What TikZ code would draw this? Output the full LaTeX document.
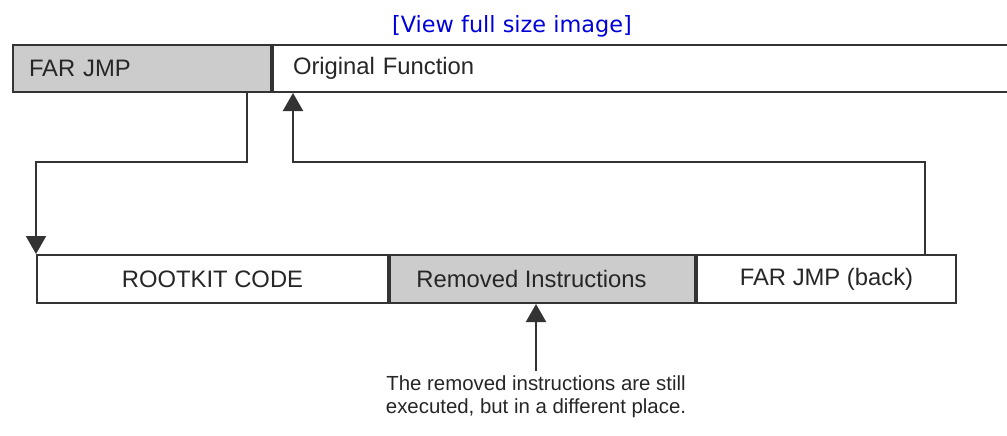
\documentclass[tikz,border=0pt]{standalone}
\usepackage{fontspec}
\setmainfont{Liberation Sans}
\newfontfamily\linkfont{DejaVu Sans}
\usetikzlibrary{calc}
\usetikzlibrary{arrows.meta}
\tikzset{>={Triangle[width=10pt,length=9pt]}}
\colorlet{Bcol}{black!80}
\colorlet{Gcol}{black!20}
\colorlet{Lcol}{blue!85!black}
\tikzset{
  box/.style={draw=Bcol,line width=1pt,minimum height=24pt,inner sep=0pt,
    text=black!85,font=\fontsize{11.9}{13}\selectfont},
  lbox/.style={box,align=left,inner xsep=#1},
  wire/.style={draw=Bcol,line width=1pt},
}

\begin{document}
\begin{tikzpicture}[x=0.5pt,y=-0.5pt]
  \def\H{23.5pt} % height top bar
  \useasboundingbox (0,0) rectangle (1007,435);
  \node[Lcol,font=\linkfont\fontsize{11.2}{13}\selectfont] (link) at (512,26) {[View full size image]};
  
  % original code, top
  \node[lbox=8pt,fill=Gcol,minimum height=\H,text width=113pt,anchor=west] (farjmp) at (12,68.5) {FAR JMP};
  \node[lbox=10pt,minimum height=\H,text width=360pt,anchor=west] (origfn) at (farjmp.east) {Original Function};
  
  % detour, bottom
  \node[box,minimum width=175.5pt,anchor=west] (rootkit) at (36,279) {ROOTKIT CODE};
  \node[box,fill=Gcol,minimum width=152.5pt,anchor=west] (removed) at (rootkit.east) {\hspace*{-11pt}Removed Instructions};
  \node[box,minimum width=129.5pt,anchor=west] (farback) at (removed.east) {FAR JMP (back)};
  
  \coordinate (J1) at (247,162);
  \coordinate (J2) at (925,162);
  \coordinate (J3) at (293,162);
  \draw[wire,->] (farjmp.south -| J1) -- (J1) -| (rootkit.north west);
  \draw[wire,->] (farback.north -| J2) -- (J2) -- (J3) -- (origfn.south -| J3);
  
  \node[anchor=north,inner sep=2pt,align=center,text=black!85,font=\fontsize{10.2}{11.5}\selectfont] (note) at (536,371)
    {The removed instructions are still\\executed, but in a different place.};
  \draw[wire,->] (note.north) -- (removed.south -| note.north);
\end{tikzpicture}
\end{document}
